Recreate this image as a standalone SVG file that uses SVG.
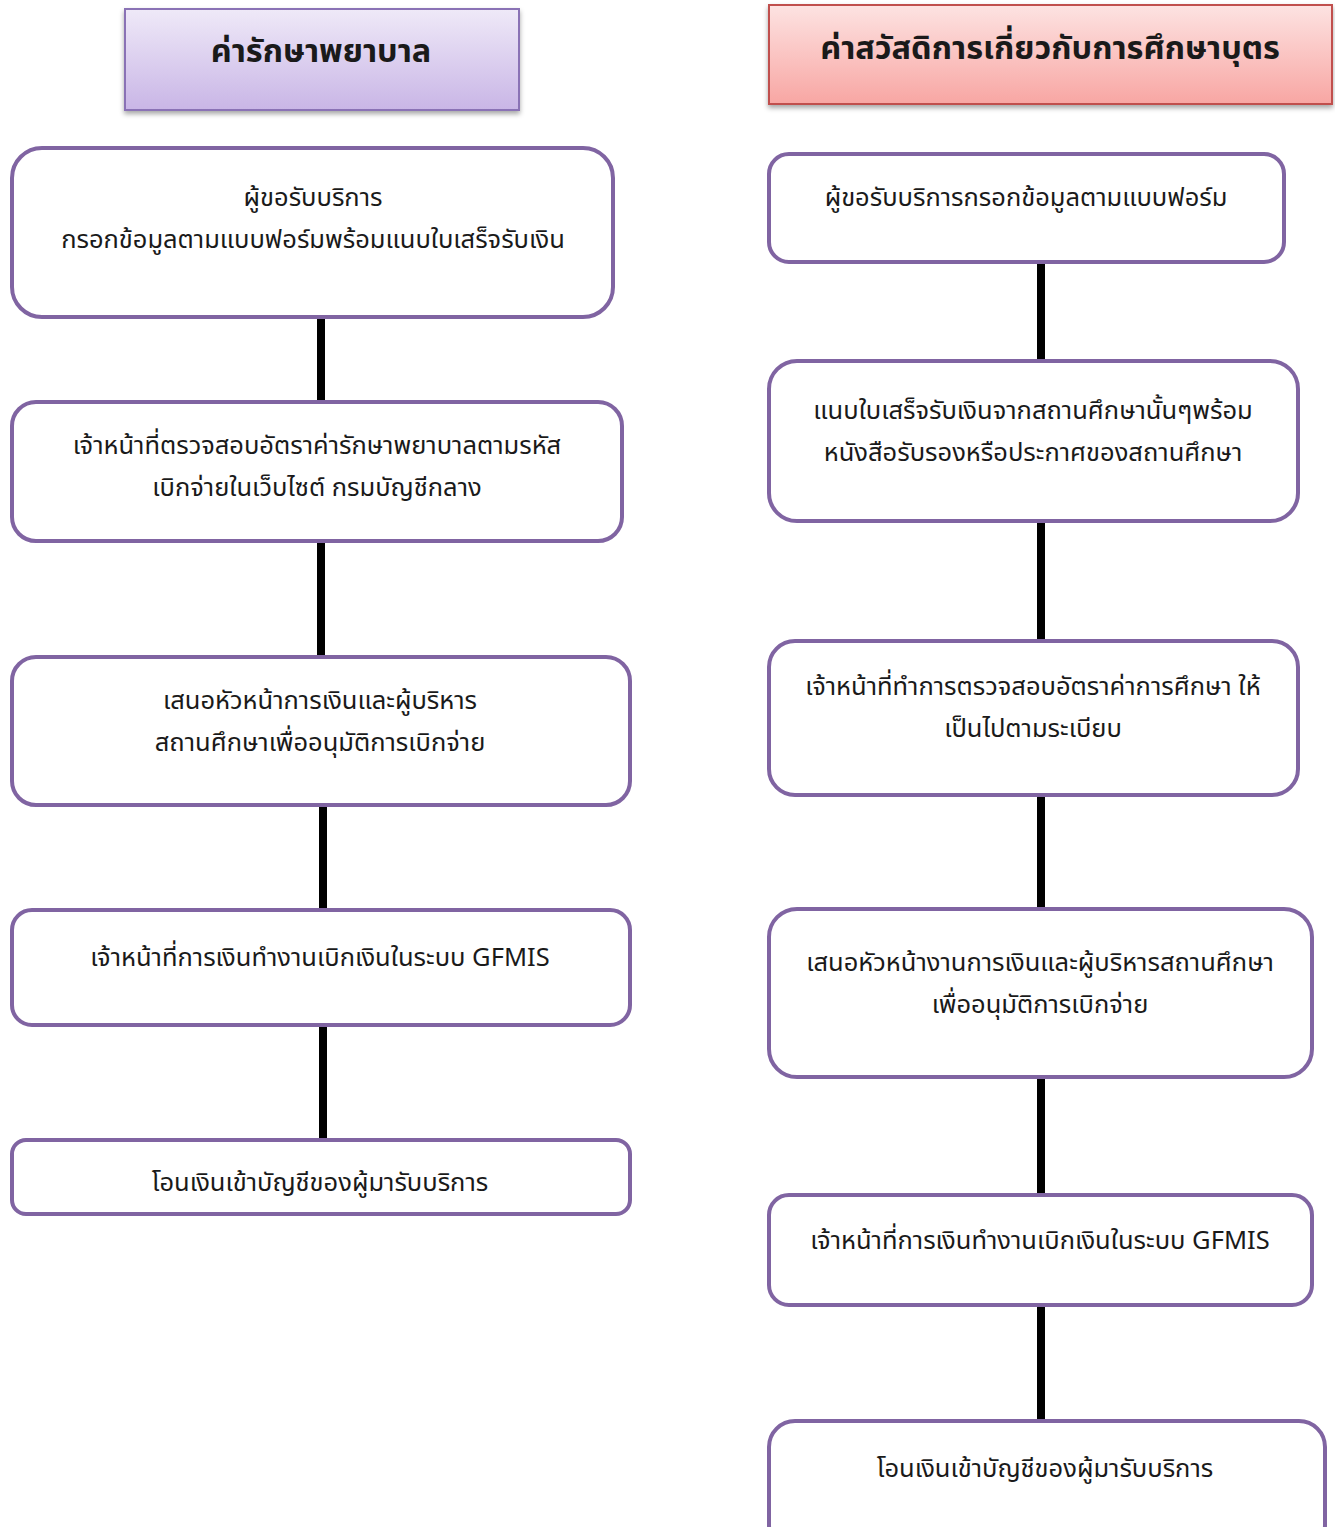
<svg xmlns="http://www.w3.org/2000/svg" width="1335" height="1527" viewBox="0 0 1335 1527">
<style>
.box{fill:#ffffff;stroke:#8064a2;stroke-width:4}
.t{font-family:"Noto Sans Thai","Noto Sans","DejaVu Sans",sans-serif;font-size:25.5px;fill:#1a1a1a;text-anchor:middle}
.h{font-family:"Noto Sans Thai","Noto Sans","DejaVu Sans",sans-serif;font-size:32.5px;font-weight:bold;fill:#1a1a1a;text-anchor:middle}
.c{stroke:#000;stroke-width:8;fill:none}
</style>
<defs>
<linearGradient id="gp" x1="0" y1="0" x2="0" y2="1"><stop offset="0" stop-color="#efe9f8"/><stop offset="1" stop-color="#c9b6e6"/></linearGradient>
<linearGradient id="gr" x1="0" y1="0" x2="0" y2="1"><stop offset="0" stop-color="#fde3e2"/><stop offset="1" stop-color="#f8a6a3"/></linearGradient>
<filter id="sh" x="-10%" y="-20%" width="120%" height="150%"><feDropShadow dx="0" dy="3" stdDeviation="2.5" flood-color="#000" flood-opacity="0.35"/></filter>
</defs>
<g id="connectors">
<line class="c" x1="321" y1="317" x2="321" y2="402"/>
<line class="c" x1="321" y1="541" x2="321" y2="657"/>
<line class="c" x1="323" y1="805" x2="323" y2="910"/>
<line class="c" x1="323" y1="1025" x2="323" y2="1140"/>
<line class="c" x1="1041" y1="262" x2="1041" y2="361"/>
<line class="c" x1="1041" y1="521" x2="1041" y2="641"/>
<line class="c" x1="1041" y1="795" x2="1041" y2="909"/>
<line class="c" x1="1041" y1="1077" x2="1041" y2="1195"/>
<line class="c" x1="1041" y1="1305" x2="1041" y2="1421"/>
</g>
<g id="header-left">
<rect x="125" y="9" width="394" height="101" fill="url(#gp)" stroke="#8a72b5" stroke-width="2" filter="url(#sh)"/>
<text class="h" x="321" y="62">ค่ารักษาพยาบาล</text>
</g>
<g id="header-right">
<rect x="769" y="5" width="563" height="99" fill="url(#gr)" stroke="#c0504d" stroke-width="2" filter="url(#sh)"/>
<text class="h" x="1050" y="59">ค่าสวัสดิการเกี่ยวกับการศึกษาบุตร</text>
</g>
<g id="l1">
<rect class="box" x="12" y="148" width="601" height="169" rx="30"/>
<text class="t" x="313" y="206">ผู้ขอรับบริการ</text>
<text class="t" x="313" y="248">กรอกข้อมูลตามแบบฟอร์มพร้อมแนบใบเสร็จรับเงิน</text>
</g>
<g id="l2">
<rect class="box" x="12" y="402" width="610" height="139" rx="24"/>
<text class="t" x="317" y="454">เจ้าหน้าที่ตรวจสอบอัตราค่ารักษาพยาบาลตามรหัส</text>
<text class="t" x="317" y="496">เบิกจ่ายในเว็บไซต์ กรมบัญชีกลาง</text>
</g>
<g id="l3">
<rect class="box" x="12" y="657" width="618" height="148" rx="24"/>
<text class="t" x="320" y="709">เสนอหัวหน้าการเงินและผู้บริหาร</text>
<text class="t" x="320" y="751">สถานศึกษาเพื่ออนุมัติการเบิกจ่าย</text>
</g>
<g id="l4">
<rect class="box" x="12" y="910" width="618" height="115" rx="20"/>
<text class="t" x="320" y="966">เจ้าหน้าที่การเงินทำงานเบิกเงินในระบบ GFMIS</text>
</g>
<g id="l5">
<rect class="box" x="12" y="1140" width="618" height="74" rx="14"/>
<text class="t" x="320" y="1191">โอนเงินเข้าบัญชีของผู้มารับบริการ</text>
</g>
<g id="r1">
<rect class="box" x="769" y="154" width="515" height="108" rx="20"/>
<text class="t" x="1026" y="206">ผู้ขอรับบริการกรอกข้อมูลตามแบบฟอร์ม</text>
</g>
<g id="r2">
<rect class="box" x="769" y="361" width="529" height="160" rx="28"/>
<text class="t" x="1033" y="419">แนบใบเสร็จรับเงินจากสถานศึกษานั้นๆพร้อม</text>
<text class="t" x="1033" y="461">หนังสือรับรองหรือประกาศของสถานศึกษา</text>
</g>
<g id="r3">
<rect class="box" x="769" y="641" width="529" height="154" rx="26"/>
<text class="t" x="1033" y="695">เจ้าหน้าที่ทำการตรวจสอบอัตราค่าการศึกษา ให้</text>
<text class="t" x="1033" y="737">เป็นไปตามระเบียบ</text>
</g>
<g id="r4">
<rect class="box" x="769" y="909" width="543" height="168" rx="28"/>
<text class="t" x="1040" y="971">เสนอหัวหน้างานการเงินและผู้บริหารสถานศึกษา</text>
<text class="t" x="1040" y="1013">เพื่ออนุมัติการเบิกจ่าย</text>
</g>
<g id="r5">
<rect class="box" x="769" y="1195" width="543" height="110" rx="20"/>
<text class="t" x="1040" y="1249">เจ้าหน้าที่การเงินทำงานเบิกเงินในระบบ GFMIS</text>
</g>
<g id="r6">
<rect class="box" x="769" y="1421" width="556" height="130" rx="26"/>
<text class="t" x="1045" y="1477">โอนเงินเข้าบัญชีของผู้มารับบริการ</text>
</g>
</svg>
